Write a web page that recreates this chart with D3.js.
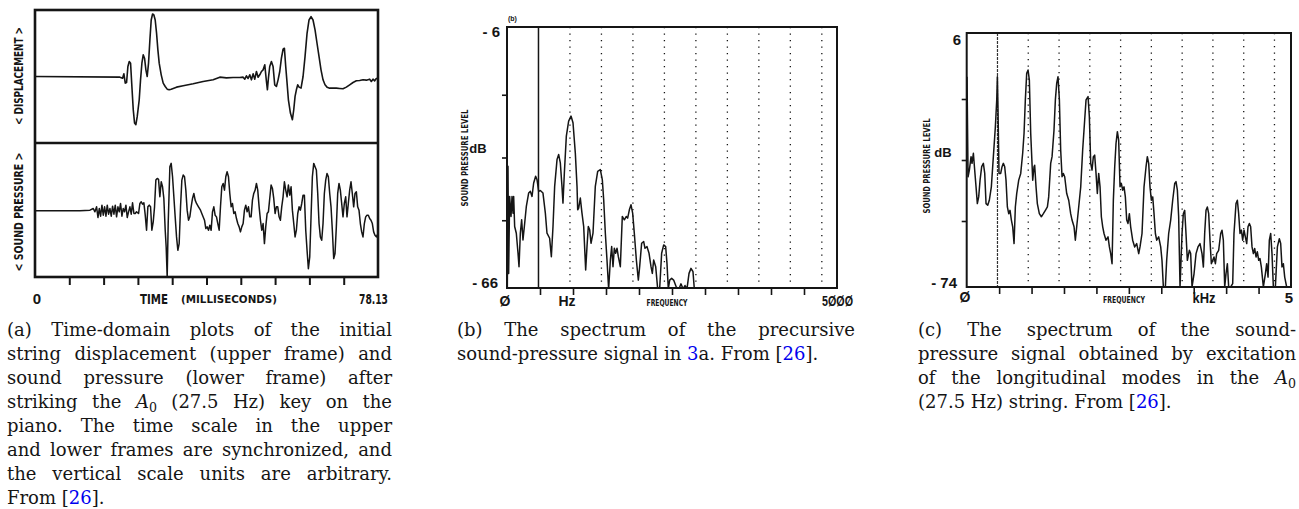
<!DOCTYPE html>
<html>
<head>
<meta charset="utf-8">
<script src="https://cdn.jsdelivr.net/npm/d3@7"></script>
<style>
  body { margin: 0; background: #fff; }
  svg { display: block; }
</style>
</head>
<body>
<svg id="fig" width="1299" height="509"></svg>
<script>
// ---- panel (a): time traces, [time ms, arbitrary units] ----
const displacement = [[0,0],[19.34,-2],[19.95,-5],[20.25,8],[20.56,-20],[20.86,-18],[21.16,30],[21.47,45],[21.77,40],[22.07,-30],[22.38,-100],[22.68,-140],[22.98,-145],[23.29,-120],[23.74,-70],[24.04,-10],[24.35,40],[24.65,65],[24.95,55],[25.26,20],[25.56,0],[25.86,40],[26.17,110],[26.47,170],[26.78,188],[27.08,185],[27.38,170],[27.69,130],[27.99,80],[28.29,40],[28.75,5],[29.2,-20],[29.66,-30],[30.11,-38],[30.57,-40],[31.02,-38],[32.24,-32],[33.75,-28],[36.03,-22],[38.3,-15],[40.58,-10],[42.1,-2],[43.61,-4],[45.13,-3],[46.65,-3],[47.41,-2],[47.79,-8],[48.16,2],[48.54,-6],[48.92,5],[49.3,-10],[49.68,8],[50.06,-8],[50.44,15],[50.82,-2],[51.2,5],[51.58,15],[51.96,20],[52.34,35],[52.72,-15],[52.94,-40],[53.17,-5],[53.47,30],[53.85,45],[54.23,30],[54.61,-25],[54.99,-30],[55.37,-10],[55.75,15],[56.13,55],[56.51,82],[56.81,85],[57.11,30],[57.42,-20],[57.72,-70],[58.18,-110],[58.63,-130],[58.94,-100],[59.24,-60],[59.54,-40],[59.85,-25],[60.15,-32],[60.6,-35],[61.06,0],[61.51,60],[61.97,130],[62.42,170],[62.88,180],[63.33,170],[63.79,140],[64.24,100],[64.7,60],[65.15,20],[65.61,-10],[66.06,-25],[66.52,-32],[67.13,-35],[67.89,-35],[68.64,-35],[69.4,-36],[70.16,-37],[70.92,-32],[71.68,-25],[72.44,-18],[73.2,-13],[73.95,-12],[74.71,-10],[75.47,-11],[76.23,-8],[76.61,-15],[76.99,-8],[77.37,-13],[77.75,-6],[78.13,-5]];

const pressure = [[0,0],[10.24,0],[12.52,2],[13.27,7],[13.65,-3],[14.03,12],[14.34,-20],[14.64,7],[14.94,-16],[15.25,17],[15.55,-13],[15.85,12],[16.16,-16],[16.46,17],[16.76,-10],[17.07,7],[17.37,-16],[17.67,14],[17.98,-10],[18.28,17],[18.58,-18],[18.89,12],[19.19,-3],[19.49,22],[19.8,-16],[20.1,7],[20.4,-3],[20.71,17],[21.01,-20],[21.31,-3],[21.62,12],[21.92,-10],[22.22,24],[22.53,-8],[22.83,-8],[23.13,-3],[23.59,-8],[23.89,22],[24.2,27],[24.5,20],[24.8,24],[25.11,-13],[25.41,-58],[25.71,12],[26.02,17],[26.32,12],[26.62,-58],[26.93,-33],[27.23,12],[27.53,92],[27.84,97],[28.14,94],[28.44,42],[28.75,87],[29.05,72],[29.35,37],[29.66,-58],[29.88,-108],[30.11,-198],[30.34,-38],[30.72,132],[31.02,142],[31.33,102],[31.63,42],[31.93,-18],[32.24,-78],[32.54,-118],[32.84,-98],[33.15,12],[33.45,92],[33.75,107],[34.06,102],[34.36,62],[34.66,2],[34.97,-28],[35.27,-18],[35.57,12],[35.88,37],[36.18,52],[36.48,32],[36.79,22],[37.24,12],[37.7,2],[38.15,-13],[38.61,-28],[38.91,-53],[39.21,-48],[39.52,-58],[39.82,-43],[40.12,-58],[40.43,-3],[40.73,12],[41.03,-13],[41.34,-18],[41.64,-38],[41.95,-58],[42.25,12],[42.55,72],[42.86,82],[43.16,62],[43.46,102],[43.76,117],[44.07,102],[44.37,52],[44.68,12],[44.98,22],[45.28,-8],[45.59,-3],[45.89,-23],[46.19,-38],[46.5,-48],[46.8,-63],[47.1,-48],[47.41,-38],[47.71,2],[48.01,17],[48.32,-3],[48.62,12],[48.92,-18],[49.23,-18],[49.53,32],[49.83,52],[50.14,62],[50.44,82],[50.74,62],[51.05,12],[51.35,-28],[51.65,-58],[51.96,-38],[52.26,-98],[52.56,-48],[52.87,-8],[53.17,-3],[53.47,37],[53.78,77],[54.08,67],[54.38,37],[54.69,-8],[54.99,12],[55.29,12],[55.6,-18],[55.9,-28],[56.2,12],[56.51,42],[56.81,87],[57.11,62],[57.42,42],[57.72,77],[58.03,47],[58.33,72],[58.63,2],[58.94,-38],[59.24,-78],[59.54,-58],[59.85,-8],[60.15,12],[60.45,2],[60.76,22],[61.06,47],[61.36,47],[61.67,-58],[61.97,-118],[62.27,-173],[62.58,-138],[62.88,-18],[63.18,102],[63.49,142],[63.79,132],[64.09,122],[64.4,52],[64.7,-38],[65,-78],[65.31,-88],[65.61,-38],[65.91,52],[66.22,92],[66.52,112],[66.82,102],[67.13,52],[67.43,12],[67.73,-58],[68.04,-143],[68.34,-128],[68.64,-48],[68.95,52],[69.25,82],[69.55,62],[69.86,22],[70.16,-18],[70.46,22],[70.77,42],[71.07,-18],[71.37,22],[71.68,62],[71.98,87],[72.28,52],[72.59,12],[72.89,52],[73.2,57],[73.5,12],[73.8,2],[74.11,-38],[74.41,-63],[74.71,-78],[75.02,-38],[75.32,-18],[75.62,-13],[75.93,-13],[76.23,-23],[76.53,-28],[76.84,-38],[77.14,-63],[77.44,-73],[77.75,-78],[78.13,-68]];

const timeTicks = [7.81, 15.63, 23.44, 31.25, 39.07, 46.88, 54.69, 62.5, 70.32];

// ---- panel (b): precursor spectrum, [Hz, dB] ----
const spectrumB = [[5,-67],[15,-38.1],[25,-63.7],[40,-45.3],[61,-50.1],[76,-45.3],[91,-49.3],[101,-45.3],[116,-52.5],[141,-54.1],[167,-58.9],[182,-62.1],[202,-54.1],[222,-50.9],[242,-55.7],[263,-52.5],[293,-47.7],[328,-44.5],[354,-44.1],[379,-45.3],[404,-42.1],[434,-40.5],[455,-41.3],[480,-44.1],[505,-43.9],[545,-44.5],[581,-49.3],[606,-54.1],[646,-55.3],[672,-59.7],[697,-52.5],[722,-42.9],[758,-36.5],[783,-35.3],[808,-37.3],[833,-42.9],[848,-46.9],[869,-39.7],[899,-30.9],[934,-27.3],[970,-26.1],[1000,-27.7],[1035,-34.9],[1061,-42.9],[1071,-48.5],[1086,-48.1],[1111,-45.7],[1136,-49.3],[1162,-52.5],[1192,-62.9],[1212,-57.3],[1232,-52.5],[1253,-53.3],[1273,-56.5],[1303,-54.1],[1338,-42.9],[1374,-39.3],[1414,-38.9],[1444,-41.3],[1465,-46.1],[1490,-54.1],[1515,-60.5],[1540,-67.4],[1566,-60.5],[1586,-57.3],[1606,-62.1],[1626,-57.7],[1646,-58.9],[1667,-57.7],[1687,-59.7],[1717,-62.1],[1747,-50.1],[1778,-50.9],[1808,-50.1],[1828,-50.5],[1854,-48.5],[1879,-47.3],[1904,-49.3],[1929,-54.1],[1960,-60.5],[1990,-65.3],[2010,-62.1],[2040,-56.5],[2071,-56.1],[2091,-57.7],[2121,-57.3],[2152,-58.9],[2182,-62.1],[2202,-63.7],[2222,-60.5],[2253,-62.1],[2283,-67.4],[2313,-67.4],[2343,-58.9],[2374,-56.9],[2404,-57.3],[2424,-61.3],[2444,-67.4],[2465,-65.3],[2495,-64.9],[2525,-65.3],[2566,-67],[2606,-67.4],[2636,-66.2],[2667,-67.4],[2697,-66.6],[2727,-67.4],[2758,-63.7],[2788,-62.5],[2818,-63.3],[2838,-67.4]];
const fundamentalB = 477;
const harmonicsB = [954, 1431, 1908, 2385, 2862, 3339, 3816, 4293, 4770];
const freqTicksB = [500, 1000, 1500, 2000, 2500, 3000, 3500, 4000, 4500];
const dbTicksB = [-21, -36, -51];

// ---- panel (c): longitudinal-mode spectrum, [kHz, dB] ----
const spectrumC = [[0.005,-6.7],[0.021,-39.5],[0.041,-37.3],[0.067,-32.9],[0.082,-35.1],[0.103,-31.8],[0.123,-37.3],[0.144,-42.8],[0.164,-48.3],[0.185,-46.1],[0.206,-40.6],[0.231,-36.2],[0.257,-35.1],[0.278,-38.4],[0.298,-48.3],[0.324,-48.8],[0.349,-47.2],[0.38,-42.8],[0.411,-32.9],[0.442,-23.1],[0.463,-14.3],[0.473,-6.7],[0.483,-17.6],[0.498,-38.4],[0.524,-38.4],[0.545,-36.2],[0.565,-35.1],[0.586,-36.2],[0.606,-40.6],[0.627,-49.4],[0.648,-51.6],[0.668,-50.5],[0.689,-53.7],[0.709,-55.9],[0.73,-61.4],[0.75,-49.4],[0.771,-45],[0.802,-40.6],[0.833,-38.4],[0.863,-31.8],[0.884,-25.3],[0.904,-14.3],[0.925,-5.6],[0.946,-4.5],[0.966,-7.8],[0.987,-25.3],[1.007,-35.1],[1.018,-40.6],[1.038,-36.2],[1.048,-35.7],[1.069,-42.8],[1.089,-48.3],[1.12,-51.6],[1.151,-52.6],[1.182,-51.6],[1.213,-50.5],[1.244,-49.4],[1.264,-46.1],[1.295,-35.1],[1.316,-32.9],[1.346,-24.2],[1.367,-14.3],[1.388,-8.8],[1.408,-6.7],[1.429,-14.3],[1.449,-30.7],[1.47,-39.5],[1.49,-38.4],[1.511,-39.5],[1.542,-45],[1.573,-47.2],[1.603,-51.6],[1.624,-53.7],[1.655,-55.9],[1.675,-60.3],[1.696,-55.9],[1.727,-49.4],[1.758,-42.8],[1.788,-30.7],[1.819,-20.9],[1.84,-14.3],[1.871,-13.2],[1.891,-19.8],[1.912,-35.1],[1.932,-37.3],[1.953,-32.9],[1.973,-32.4],[1.994,-38.4],[2.014,-45],[2.035,-38.4],[2.056,-42.8],[2.076,-52.6],[2.097,-55.9],[2.117,-58.1],[2.148,-60.3],[2.179,-59.2],[2.2,-62.5],[2.22,-64.7],[2.241,-68],[2.261,-47.2],[2.282,-36.2],[2.302,-28.6],[2.323,-24.7],[2.343,-27.5],[2.364,-42.8],[2.384,-41.7],[2.405,-43.9],[2.426,-42.8],[2.446,-46.1],[2.467,-53.7],[2.487,-54.8],[2.508,-51.6],[2.528,-55.9],[2.559,-60.3],[2.59,-62.5],[2.621,-61.4],[2.652,-64.7],[2.672,-62.5],[2.703,-58.1],[2.734,-42.8],[2.765,-36.2],[2.785,-32.9],[2.806,-35.1],[2.826,-42.8],[2.847,-47.2],[2.868,-46.1],[2.888,-51.6],[2.909,-58.1],[2.929,-60.3],[2.96,-59.2],[2.991,-62.5],[3.011,-66.9],[3.032,-75.6],[3.063,-75.6],[3.083,-66.9],[3.114,-58.1],[3.145,-53.7],[3.176,-47.2],[3.207,-41.7],[3.227,-41.1],[3.248,-43.9],[3.268,-52.6],[3.289,-75.6],[3.32,-58.1],[3.34,-51.6],[3.361,-50.5],[3.381,-58.1],[3.402,-66.9],[3.433,-63.6],[3.453,-64.7],[3.474,-75.6],[3.505,-71.3],[3.536,-64.7],[3.566,-62.5],[3.597,-61.4],[3.628,-64.7],[3.649,-69.1],[3.669,-58.1],[3.69,-50.5],[3.71,-49.4],[3.731,-51.6],[3.751,-60.3],[3.772,-68],[3.793,-66.9],[3.813,-65.8],[3.834,-68],[3.854,-64.7],[3.885,-63.6],[3.916,-58.1],[3.936,-57],[3.957,-60.3],[3.978,-75.6],[3.998,-71.3],[4.019,-68],[4.039,-75.6],[4.07,-75.6],[4.101,-74.5],[4.121,-58.1],[4.152,-48.3],[4.173,-47.2],[4.193,-51.6],[4.214,-58.1],[4.235,-57],[4.255,-60.3],[4.276,-57],[4.296,-59.2],[4.317,-61.4],[4.337,-55.9],[4.358,-54.8],[4.378,-55.9],[4.399,-62.5],[4.42,-64.7],[4.44,-63],[4.461,-65.8],[4.481,-64.1],[4.502,-66.9],[4.522,-66.3],[4.543,-69.1],[4.574,-75.6],[4.605,-71.3],[4.625,-68],[4.646,-72.4],[4.666,-60.3],[4.687,-58.1],[4.707,-64.7],[4.728,-75.6],[4.759,-75.6],[4.79,-62.5],[4.82,-59.8],[4.841,-61.4],[4.861,-69.1],[4.882,-68],[4.903,-72.4],[4.933,-75.6],[4.964,-75.6]];
const fundamentalC = 0.4745;
const harmonicsC = [0.949, 1.424, 1.898, 2.373, 2.847, 3.322, 3.796, 4.271, 4.745];
const freqTicksC = [0.5, 1, 1.5, 2, 2.5, 3, 3.5, 4, 4.5];
const dbTicksC = [-14, -34, -54];

// ---- captions ({..} = link colour, $..$ = italic, _n = subscript) ----
const captionA = [
  "(a) Time-domain plots of the initial",
  "string displacement (upper frame) and",
  "sound pressure (lower frame) after",
  "striking the $A$_0 (27.5 Hz) key on the",
  "piano. The time scale in the upper",
  "and lower frames are synchronized, and",
  "the vertical scale units are arbitrary.",
  "From [{26}]."
];
const captionB = [
  "(b) The spectrum of the precursive",
  "sound-pressure signal in {3}a. From [{26}]."
];
const captionC = [
  "(c) The spectrum of the sound-",
  "pressure signal obtained by excitation",
  "of the longitudinal modes in the $A$_0",
  "(27.5 Hz) string. From [{26}]."
];

const svg = d3.select('#fig');
const ink = '#151515';
const plotFont = "'Liberation Sans', Arial, sans-serif";
const narrowFont = "'Liberation Sans Narrow', 'DejaVu Sans Condensed', 'Liberation Sans', sans-serif";

function label(x, y, str, size, opts) {
  opts = opts || {};
  const t = svg.append('text')
    .attr('x', x).attr('y', y)
    .attr('font-family', opts.family || plotFont)
    .attr('font-weight', opts.weight || 'bold')
    .attr('font-size', size)
    .attr('fill', ink)
    .attr('text-anchor', opts.anchor || 'start')
    .text(str);
  if (opts.len) t.attr('textLength', opts.len).attr('lengthAdjust', 'spacingAndGlyphs');
  if (opts.rotate) t.attr('transform', `rotate(-90,${x},${y})`);
  return t;
}

function frame(x0, y0, x1, y1, w) {
  svg.append('rect')
    .attr('x', x0).attr('y', y0)
    .attr('width', x1 - x0).attr('height', y1 - y0)
    .attr('fill', 'none').attr('stroke', ink).attr('stroke-width', w);
}

function clip(id, x0, y0, x1, y1) {
  svg.append('clipPath').attr('id', id)
    .append('rect').attr('x', x0).attr('y', y0).attr('width', x1 - x0).attr('height', y1 - y0);
}

function trace(data, x, y, clipId, w) {
  svg.append('path')
    .datum(data)
    .attr('clip-path', `url(#${clipId})`)
    .attr('fill', 'none')
    .attr('stroke', ink)
    .attr('stroke-width', w)
    .attr('stroke-linejoin', 'round')
    .attr('d', d3.line().x(d => x(d[0])).y(d => y(d[1])));
}

function ticks(axis, tx, ty, w) {
  const g = svg.append('g')
    .attr('transform', `translate(${tx},${ty})`)
    .call(axis);
  g.select('.domain').remove();
  g.selectAll('line').attr('stroke', ink).attr('stroke-width', w);
  g.selectAll('text').remove();
}

// ================= panel (a) =================
const xA = d3.scaleLinear().domain([0, 78.13]).range([35, 378]);
const yDisp = d3.scaleLinear().domain([-200, 200]).range([143, 10]);
const yPress = d3.scaleLinear().domain([-198, 203]).range([277, 143]);

clip('clipA1', 35, 10, 378, 143);
clip('clipA2', 35, 143, 378, 277);
trace(displacement, xA, yDisp, 'clipA1', 1.6);
trace(pressure, xA, yPress, 'clipA2', 1.5);
frame(35, 10, 378, 277, 2.6);
svg.append('line').attr('x1', 35).attr('x2', 378).attr('y1', 143).attr('y2', 143)
  .attr('stroke', ink).attr('stroke-width', 2.6);
ticks(d3.axisBottom(xA).tickValues(timeTicks).tickSize(8).tickFormat(''), 0, 277, 2);

label(23, 76, '< DISPLACEMENT >', 13, { family: narrowFont, anchor: 'middle', rotate: true, len: 98 });
label(23, 212, '< SOUND PRESSURE >', 13, { family: narrowFont, anchor: 'middle', rotate: true, len: 119 });
label(37, 304, '0', 15, { anchor: 'middle' });
label(140, 304, 'TIME', 14, { family: narrowFont, len: 28 });
label(181, 303, '(MILLISECONDS)', 10, { family: narrowFont, len: 96 });
label(388, 304, '78.13', 14, { family: narrowFont, anchor: 'end', len: 29 });

// ================= panel (b) =================
const xB = d3.scaleLinear().domain([0, 5000]).range([507, 837]);
const yB = d3.scaleLinear().domain([-66, -6]).range([283, 32]);

svg.append('g').selectAll('line').data(harmonicsB).join('line')
  .attr('x1', d => xB(d)).attr('x2', d => xB(d)).attr('y1', 27).attr('y2', 288)
  .attr('stroke', ink).attr('stroke-width', 1.3).attr('stroke-dasharray', '1.3,5.2');
svg.append('line')
  .attr('x1', xB(fundamentalB)).attr('x2', xB(fundamentalB)).attr('y1', 27).attr('y2', 288)
  .attr('stroke', ink).attr('stroke-width', 1.5);
clip('clipB', 507, 27, 837, 288);
trace(spectrumB, xB, yB, 'clipB', 1.5);
frame(507, 27, 837, 288, 2);
ticks(d3.axisBottom(xB).tickValues(freqTicksB).tickSize(7).tickFormat(''), 0, 288, 1.6);
ticks(d3.axisLeft(yB).tickValues(dbTicksB).tickSize(5).tickFormat(''), 507, 0, 1.6);

label(508, 21, '(b)', 7);
label(500, 37, '- 6', 15, { anchor: 'end' });
label(498, 288, '- 66', 15, { anchor: 'end' });
label(478, 153, 'dB', 13, { anchor: 'middle' });
label(468, 158, 'SOUND PRESSURE LEVEL', 9, { family: narrowFont, anchor: 'middle', rotate: true, len: 97 });
label(505, 306, 'Ø', 14, { anchor: 'middle' });
label(567, 306, 'Hz', 14, { anchor: 'middle' });
label(667, 306, 'FREQUENCY', 9, { family: narrowFont, anchor: 'middle', len: 41 });
label(853, 306, '5ØØØ', 14, { anchor: 'end', len: 31 });

// ================= panel (c) =================
const xC = d3.scaleLinear().domain([0, 5]).range([966.7, 1291]);
const yC = d3.scaleLinear().domain([-74, 6]).range([282, 38]);

svg.append('g').selectAll('line').data(harmonicsC).join('line')
  .attr('x1', d => xC(d)).attr('x2', d => xC(d)).attr('y1', 33).attr('y2', 287)
  .attr('stroke', ink).attr('stroke-width', 1.3).attr('stroke-dasharray', '1.3,5.2');
svg.append('line')
  .attr('x1', xC(fundamentalC)).attr('x2', xC(fundamentalC)).attr('y1', 33).attr('y2', 287)
  .attr('stroke', '#333').attr('stroke-width', 1.2).attr('stroke-dasharray', '3,1');
clip('clipC', 966.7, 33, 1291, 287);
trace(spectrumC, xC, yC, 'clipC', 1.5);
frame(966.7, 33, 1291, 287, 2);
ticks(d3.axisBottom(xC).tickValues(freqTicksC).tickSize(7).tickFormat(''), 0, 287, 1.6);
ticks(d3.axisLeft(yC).tickValues(dbTicksC).tickSize(5).tickFormat(''), 966.7, 0, 1.6);

label(961, 45, '6', 15, { anchor: 'end' });
label(957, 288, '- 74', 15, { anchor: 'end' });
label(943, 157, 'dB', 13, { anchor: 'middle' });
label(930, 166, 'SOUND PRESSURE LEVEL', 9, { family: narrowFont, anchor: 'middle', rotate: true, len: 95 });
label(965, 302, 'Ø', 14, { anchor: 'middle' });
label(1124, 303, 'FREQUENCY', 9, { family: narrowFont, anchor: 'middle', len: 42 });
label(1204, 303, 'kHz', 14, { anchor: 'middle', len: 23 });
label(1289, 303, '5', 15, { anchor: 'middle' });

// ================= captions =================
const capFont = "'DejaVu Serif', 'Liberation Serif', serif";
const capSize = 18;

function richWord(t, word) {
  word.split(/(\{[^}]*\}|\$[^$]*\$|_[0-9])/).filter(s => s.length).forEach(s => {
    if (s[0] === '{') t.append('tspan').attr('fill', '#0000ee').text(s.slice(1, -1));
    else if (s[0] === '$') t.append('tspan').attr('font-style', 'italic').text(s.slice(1, -1));
    else if (s[0] === '_') t.append('tspan').attr('dy', 4).attr('font-size', capSize * 0.7).text(s.slice(1));
    else t.append('tspan').text(s);
  });
}

function caption(lines, x0, x1, y0) {
  const g = svg.append('g')
    .attr('font-family', capFont)
    .attr('font-size', capSize)
    .attr('fill', ink);
  const probe = g.append('text').text('a a');
  const probe2 = g.append('text').text('aa');
  const space = probe.node().getComputedTextLength() - probe2.node().getComputedTextLength();
  probe.remove(); probe2.remove();

  lines.forEach((line, i) => {
    const words = line.split(' ');
    const y = y0 + i * 24;
    const nodes = words.map(w => {
      const t = g.append('text').attr('y', y);
      richWord(t, w);
      return t;
    });
    const widths = nodes.map(n => n.node().getComputedTextLength());
    const last = i === lines.length - 1;
    const gap = last ? space : (x1 - x0 - d3.sum(widths)) / (words.length - 1);
    let x = x0;
    nodes.forEach((n, k) => {
      n.attr('x', x);
      x += widths[k] + gap;
    });
  });
}

caption(captionA, 7, 392, 336);
caption(captionB, 457, 855, 336);
caption(captionC, 918, 1296, 336);
</script>
</body>
</html>
